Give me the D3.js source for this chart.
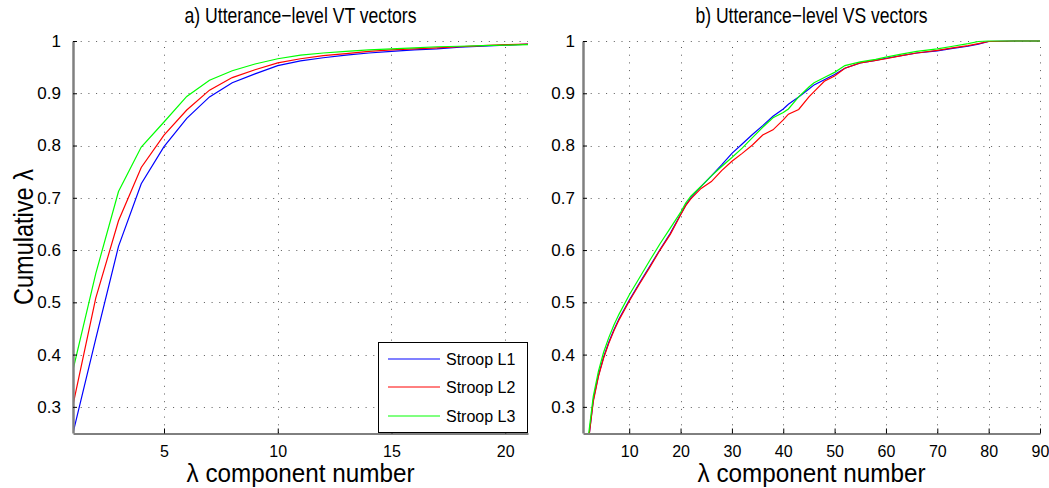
<!DOCTYPE html>
<html><head><meta charset="utf-8">
<script src="https://cdn.jsdelivr.net/npm/d3@7"></script>
<style>body{margin:0;background:#fff;} svg{display:block;} text{font-family:"Liberation Sans",Arial,Helvetica,sans-serif;fill:#000;}</style>
</head><body>
<svg id="chart" width="1049" height="488"></svg>
<script>
const seriesNames = ["Stroop L1", "Stroop L2", "Stroop L3"];
const seriesColors = ["#0000ff", "#ff0000", "#00ff00"];

// Panel a) VT vectors
const vtX = [1,2,3,4,5,6,7,8,9,10,11,12,13,14,15,16,17,18,19,20,21];
const vtL1 = [0.25,0.43,0.607,0.727,0.798,0.852,0.893,0.920,0.937,0.953,0.962,0.968,0.973,0.977,0.980,0.983,0.985,0.988,0.990,0.992,0.994];
const vtL2 = [0.304,0.508,0.656,0.758,0.820,0.868,0.906,0.930,0.945,0.958,0.966,0.972,0.976,0.980,0.983,0.985,0.987,0.989,0.991,0.993,0.994];
const vtL3 = [0.371,0.555,0.712,0.797,0.845,0.894,0.925,0.943,0.956,0.966,0.973,0.977,0.980,0.983,0.985,0.987,0.989,0.990,0.991,0.992,0.993];
const vtXTicks = [5,10,15,20];

// Panel b) VS vectors
const vsX = [2,3,4,5,6,7,8,10,12,14,16,18,20,21,22,24,26,28,30,32,34,36,38,40,41,43,45,46,48,50,52,55,58,60,63,66,70,73,76,78,80,85,90];
const vsL1 = [0.23,0.313,0.36,0.395,0.423,0.447,0.468,0.504,0.537,0.569,0.601,0.632,0.668,0.686,0.70,0.722,0.742,0.763,0.785,0.803,0.821,0.838,0.856,0.87,0.879,0.893,0.908,0.916,0.926,0.936,0.948,0.958,0.963,0.967,0.972,0.977,0.981,0.986,0.99,0.994,0.999,1,1];
const vsL2 = [0.23,0.31,0.358,0.393,0.421,0.445,0.466,0.502,0.535,0.567,0.6,0.63,0.667,0.685,0.698,0.718,0.731,0.752,0.77,0.785,0.801,0.82,0.83,0.849,0.86,0.869,0.893,0.903,0.923,0.933,0.948,0.958,0.963,0.966,0.972,0.977,0.982,0.987,0.991,0.995,0.999,1,1];
const vsL3 = [0.24,0.32,0.368,0.404,0.432,0.456,0.477,0.514,0.547,0.58,0.612,0.642,0.672,0.69,0.703,0.722,0.742,0.76,0.777,0.795,0.815,0.835,0.853,0.863,0.87,0.893,0.912,0.92,0.93,0.94,0.953,0.96,0.965,0.969,0.975,0.98,0.985,0.99,0.995,0.999,1,1,1];
const vsXTicks = [10,20,30,40,50,60,70,80,90];

const yTicks = [0.3,0.4,0.5,0.6,0.7,0.8,0.9,1];
const yTickLabels = ["0.3","0.4","0.5","0.6","0.7","0.8","0.9","1"];

const svg = d3.select("#chart");
const plotTop = 41, plotBottom = 433;

function panel(cfg) {
  const x = d3.scaleLinear().domain(cfg.xDomain).range([cfg.left, cfg.right]);
  const y = d3.scaleLinear().domain([0.25, 1]).range([plotBottom, plotTop]);
  const g = svg.append("g");
  const clipId = "clip" + cfg.id;
  svg.append("clipPath").attr("id", clipId).append("rect")
    .attr("x", cfg.left).attr("y", plotTop - 1).attr("width", cfg.right - cfg.left).attr("height", plotBottom - plotTop + 1);

  // grid
  const grid = g.append("g").attr("stroke", "#000").attr("stroke-opacity", 0.65)
    .attr("stroke-dasharray", "1,6.7").attr("stroke-width", 1);
  cfg.xTicks.forEach(t => grid.append("line")
    .attr("x1", Math.round(x(t)) + 0.5).attr("x2", Math.round(x(t)) + 0.5)
    .attr("y1", plotBottom).attr("y2", plotTop));
  yTicks.forEach(t => grid.append("line")
    .attr("x1", cfg.left).attr("x2", cfg.right)
    .attr("y1", Math.round(y(t)) + 0.5).attr("y2", Math.round(y(t)) + 0.5));

  // lines
  const line = d3.line().x(d => x(d[0])).y(d => y(d[1]));
  cfg.series.forEach((s, i) => {
    g.append("path").datum(cfg.xs.map((v, j) => [v, s[j]]))
      .attr("d", line).attr("fill", "none").attr("stroke", seriesColors[i])
      .attr("stroke-width", 1.2).attr("clip-path", `url(#${clipId})`);
  });

  // axes
  const xAxis = d3.axisBottom(x).tickValues(cfg.xTicks).tickSizeInner(-5).tickSizeOuter(0).tickPadding(12);
  const ax = g.append("g").attr("transform", `translate(0,${plotBottom + 0.5})`).call(xAxis);
  ax.select(".domain").attr("stroke", "#000");
  ax.selectAll(".tick line").attr("stroke", "#000");
  ax.selectAll("text").attr("font-size", 16).style("font-family", '"Liberation Sans",Arial,sans-serif');

  const yAxis = d3.axisLeft(y).tickValues(yTicks).tickFormat((d, i) => yTickLabels[i])
    .tickSizeInner(-4).tickSizeOuter(0).tickPadding(cfg.yPad);
  const ay = g.append("g").attr("transform", `translate(${cfg.left},0)`).call(yAxis);
  ay.select(".domain").attr("stroke", "#808080").attr("stroke-width", 2.5);
  ay.selectAll(".tick line").attr("stroke", "#000");
  ay.selectAll("text").attr("font-size", 17).style("font-family", '"Liberation Sans",Arial,sans-serif');

  // title
  const cx = (cfg.left + cfg.right) / 2;
  g.append("text").attr("x", cx).attr("y", 23).attr("text-anchor", "middle")
    .attr("font-size", 22).attr("textLength", 232).attr("lengthAdjust", "spacingAndGlyphs")
    .text(cfg.title);
  // x label
  g.append("text").attr("x", cx).attr("y", 482).attr("text-anchor", "middle")
    .attr("font-size", 25).attr("textLength", 228).attr("lengthAdjust", "spacingAndGlyphs")
    .text("λ component number");
  return {x, y, g};
}

const pa = panel({id: "a", left: 73, right: 528, xDomain: [1, 21], xTicks: vtXTicks, xs: vtX,
  series: [vtL1, vtL2, vtL3], title: "a) Utterance−level VT vectors", yPad: 12});
const pb = panel({id: "b", left: 583, right: 1040, xDomain: [1, 90], xTicks: vsXTicks, xs: vsX,
  series: [vsL1, vsL2, vsL3], title: "b) Utterance−level VS vectors", yPad: 8});

// y label
svg.append("text").attr("transform", "translate(33,237) rotate(-90)")
  .attr("text-anchor", "middle").attr("font-size", 28)
  .attr("textLength", 136).attr("lengthAdjust", "spacingAndGlyphs")
  .text("Cumulative λ");

// legend
const leg = svg.append("g");
leg.append("rect").attr("x", 378.5).attr("y", 342.5).attr("width", 149).attr("height", 90)
  .attr("fill", "#fff").attr("stroke", "#000").attr("stroke-width", 1);
const legRows = [359, 387, 416];
const legWidths = [2, 1, 2];
const legColors = ["#8080ff", "#ff0000", "#80ff80"];
seriesNames.forEach((n, i) => {
  leg.append("line").attr("x1", 388).attr("x2", 440).attr("y1", legRows[i]).attr("y2", legRows[i])
    .attr("stroke", legColors[i]).attr("stroke-width", legWidths[i]);
  leg.append("text").attr("x", 446).attr("y", legRows[i] + 6).attr("font-size", 16).text(n);
});
</script>
</body></html>
